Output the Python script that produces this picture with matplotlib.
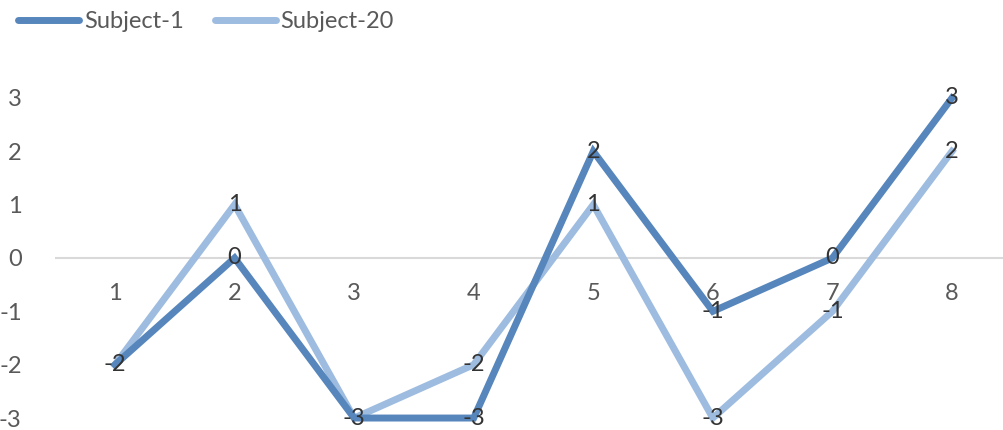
import matplotlib.pyplot as plt
from matplotlib.lines import Line2D

# scores per trial for the two subjects
trials = [1, 2, 3, 4, 5, 6, 7, 8]
subject_1 = [-2, 0, -3, -3, 2, -1, 0, 3]
subject_20 = [-2, 1, -3, -2, 1, -3, -1, 2]
y_ticks = [3, 2, 1, 0, -1, -2, -3]

c1 = '#5686BC'
c20 = '#9DBCE0'
txt = '#595959'
fs = 17
plt.rcParams['font.family'] = ['Lato', 'DejaVu Sans']

fig = plt.figure(figsize=(10.04, 4.3), dpi=100)
ax = fig.add_axes([55 / 1004, 1.3 / 430, 1 - 55 / 1004, (428.7 - 87.3) / 430])

ax.axhline(0, color='#D9D9D9', lw=1.5, zorder=1)
ax.plot(trials, subject_1, color=c1, lw=5, solid_joinstyle='miter', zorder=3)
ax.plot(trials, subject_20, color=c20, lw=5, solid_joinstyle='miter', zorder=2)

# value labels sit right on the points
for x, a, b in zip(trials, subject_1, subject_20):
    ax.text(x, a, str(a), ha='center', va='center', fontsize=fs, color='#333333', zorder=5)
    if b != a:
        ax.text(x, b, str(b), ha='center', va='center', fontsize=fs, color='#333333', zorder=5)

# category labels below the zero line
for x in trials:
    ax.annotate(str(x), (x, 0), xytext=(0, -35), textcoords='offset pixels',
                ha='center', va='center', fontsize=fs, color=txt)

ax.set_xlim(1 - 60 / 119.57, 8 + 52 / 119.57)
ax.set_ylim(-3.2, 3.2)
ax.set_yticks(y_ticks)
ax.set_yticklabels([str(v) for v in y_ticks], fontsize=fs, color=txt)
ax.tick_params(axis='y', length=0, pad=24)
ax.set_xticks([])
for s in ax.spines.values():
    s.set_visible(False)

handles = [Line2D([], [], color=c1, lw=5, solid_capstyle='round'),
           Line2D([], [], color=c20, lw=5, solid_capstyle='round')]
fig.legend(handles, ['Subject-1', 'Subject-20'], loc='center left',
           bbox_to_anchor=(18 / 1004, 1 - 22 / 430), frameon=False, ncol=2,
           fontsize=fs, labelcolor=txt, handlelength=2.6, handletextpad=0.2,
           columnspacing=1.3, borderaxespad=0, borderpad=0)

fig.savefig('out.png', dpi=100)
